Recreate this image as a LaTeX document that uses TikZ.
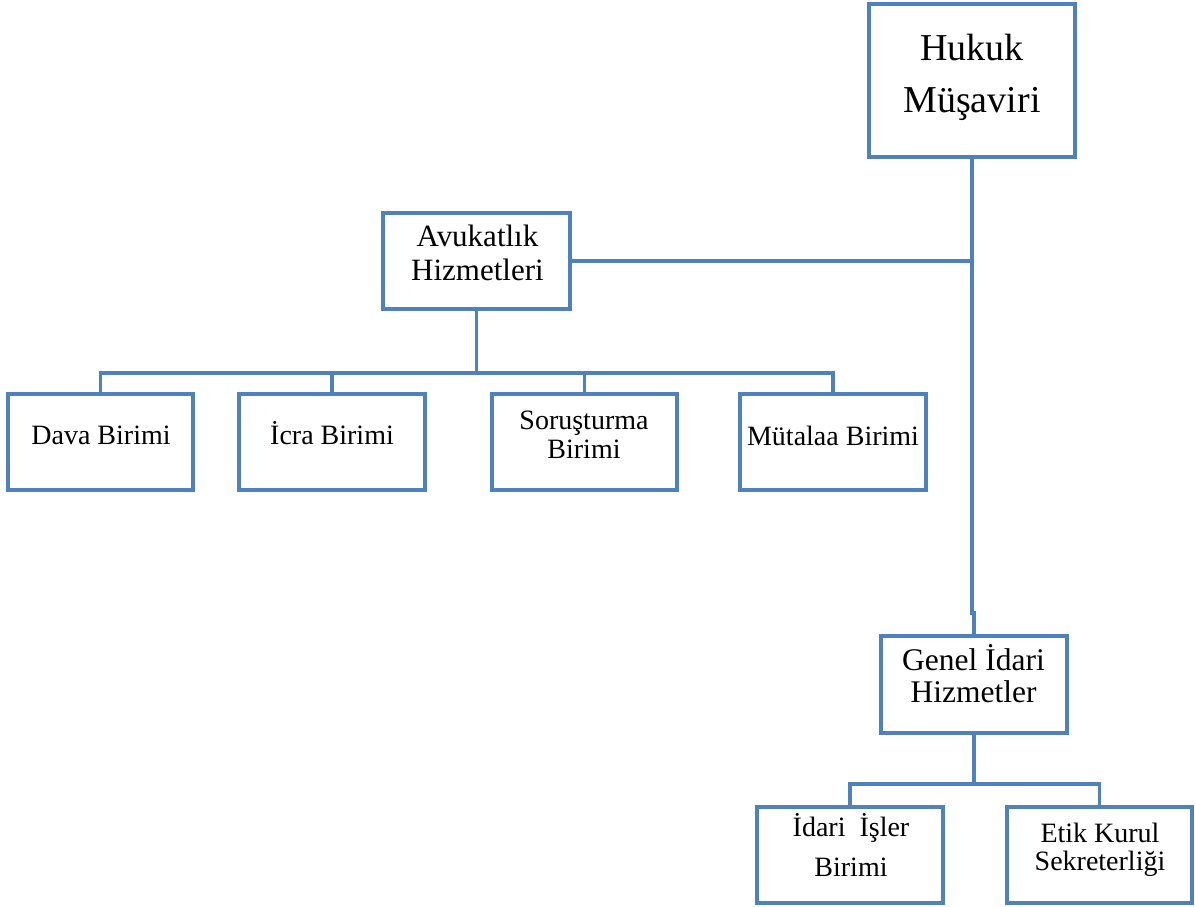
\documentclass[tikz,border=0pt]{standalone}
\usepackage{fontspec}
\setmainfont{Liberation Serif}
\definecolor{boxblue}{RGB}{79,129,189}
\begin{document}
\begin{tikzpicture}[x=1pt,y=-1pt,
  box/.style={draw=boxblue, line width=3.1pt, fill=white, inner sep=0pt,
              minimum width=186pt, minimum height=96pt},
  txt/.style={align=center, inner sep=0pt, text=black},
  conn/.style={draw=boxblue, line width=3.1pt}]
\useasboundingbox (0,0) rectangle (1195,907);
% boxes
\node[box, minimum width=206pt, minimum height=153pt] (hukuk) at (972,80.5) {};
\node[box, minimum width=187pt] (avuk) at (476.5,261) {};
\node[box, minimum width=185pt] (dava) at (100.5,442) {};
\node[box] (icra) at (332,442) {};
\node[box, minimum width=185pt] (soru) at (584.5,442) {};
\node[box] (mutalaa) at (833,442) {};
\node[box, minimum height=97pt] (genel) at (974,684.5) {};
\node[box] (idari) at (850,855) {};
\node[box, minimum width=185pt] (etik) at (1099.5,855) {};
% texts
\node[txt, font=\fontsize{38}{52}\selectfont] (tHukuk) at (972,77) {Hukuk\\Müşaviri};
\node[txt, font=\fontsize{31}{34}\selectfont] (tAvuk) at (477.5,253) {Avukatlık\\Hizmetleri};
\node[txt, font=\fontsize{28}{29}\selectfont] (tDava) at (101,435.5) {Dava Birimi};
\node[txt, font=\fontsize{28}{29}\selectfont] (tIcra) at (332,433) {İcra Birimi};
\node[txt, font=\fontsize{28}{29}\selectfont] (tSoru) at (584,435) {Soruşturma\\Birimi};
\node[txt, font=\fontsize{28}{29}\selectfont] (tMut) at (833,435.5) {Mütalaa Birimi};
\node[txt, font=\fontsize{31.5}{32}\selectfont] (tGenel) at (973.5,674) {Genel İdari\\Hizmetler};
\node[txt, font=\fontsize{28}{40}\selectfont] (tIdari) at (851,845) {İdari\ \ İşler\\Birimi};
\node[txt, font=\fontsize{28}{28}\selectfont] (tEtik) at (1100,849.5) {Etik Kurul\\Sekreterliği};
% connectors
\coordinate (jog) at (972,613);
\coordinate (jA) at (972,261);
\coordinate (busA) at (476.5,373);
\coordinate (busG) at (974,784);
\draw[conn] (hukuk.south) -- (jog) -| (genel.north);
\draw[conn] (avuk.east) -- (jA);
\draw[conn] (avuk.south) -- (busA);
\draw[conn] (dava.north) |- (busA) -| (mutalaa.north);
\draw[conn] (icra.north) -- (icra.north |- busA);
\draw[conn] (soru.north) -- (soru.north |- busA);
\draw[conn] (genel.south) -- (busG);
\draw[conn] (idari.north) |- (busG) -| (etik.north);
\end{tikzpicture}
\end{document}
